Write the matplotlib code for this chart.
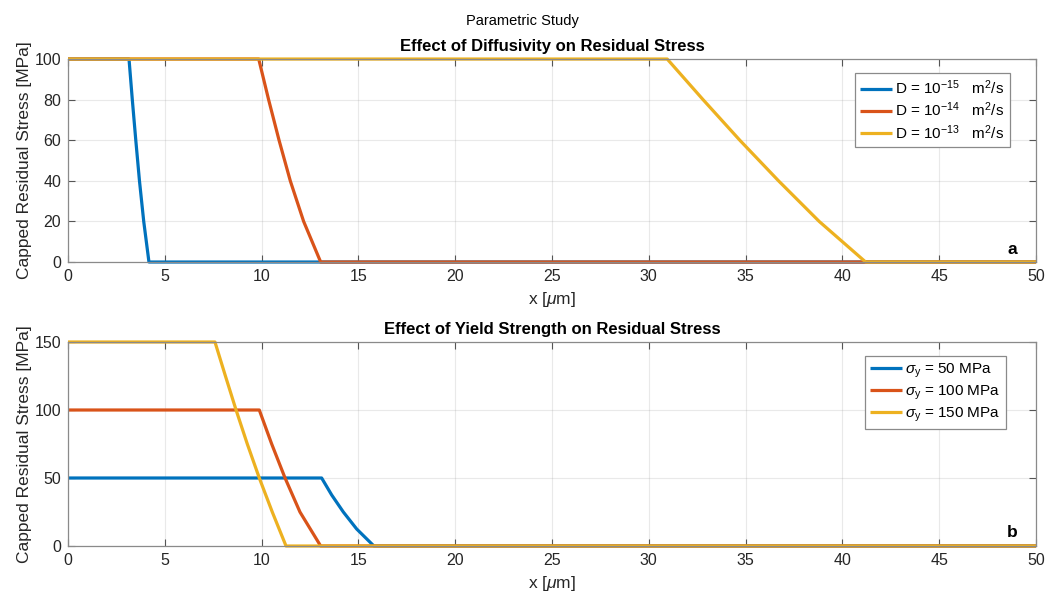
import numpy as np
import matplotlib
matplotlib.use('Agg')
import matplotlib.pyplot as plt

plt.rcParams['font.family'] = ['Liberation Sans', 'DejaVu Sans']
plt.rcParams['mathtext.fontset'] = 'custom'
plt.rcParams['mathtext.rm'] = 'Liberation Sans'
plt.rcParams['mathtext.it'] = 'Liberation Sans:italic'

# colours (MATLAB default order)
colors = ['#0072BD', '#D95319', '#EDB120']

# panel a: effect of diffusivity (yield strength 100 MPa)
xa_d15 = [0, 3.15, 3.32, 3.50, 3.69, 3.91, 4.18, 50]
ya_d15 = [100, 100, 80, 60, 40, 20, 0, 0]
xa_d14 = [0, 9.85, 10.36, 10.90, 11.48, 12.17, 13.05, 50]
ya_d14 = [100, 100, 80, 60, 40, 20, 0, 0]
xa_d13 = [0, 30.95, 32.80, 34.70, 36.70, 38.80, 41.20, 50]
ya_d13 = [100, 100, 80, 60, 40, 20, 0, 0]
labels_a = [r'D = 10$^{-15}$   m$^2$/s', r'D = 10$^{-14}$   m$^2$/s', r'D = 10$^{-13}$   m$^2$/s']

# panel b: effect of yield strength
xb_50 = [0, 13.10, 13.62, 14.22, 14.91, 15.80, 50]
yb_50 = [50, 50, 37.5, 25, 12.5, 0, 0]
xb_100 = [0, 9.88, 10.52, 11.21, 11.98, 13.05, 50]
yb_100 = [100, 100, 75, 50, 25, 0, 0]
xb_150 = [0, 7.59, 8.13, 8.68, 9.26, 9.88, 10.55, 11.26, 50]
yb_150 = [150, 150, 125, 100, 75, 50, 25, 0, 0]
labels_b = [r'$\sigma_{\rm y}$ = 50 MPa', r'$\sigma_{\rm y}$ = 100 MPa', r'$\sigma_{\rm y}$ = 150 MPa']

fig = plt.figure(figsize=(10.45, 5.92), dpi=100)
ax1 = fig.add_axes([0.0651, 0.5574, 0.9263, 0.3429])
ax2 = fig.add_axes([0.0651, 0.0777, 0.9263, 0.3446])

def style(ax, yticks, ylim):
    ax.set_xlim(0, 50)
    ax.set_ylim(*ylim)
    ax.set_xticks(np.arange(0, 51, 5))
    ax.set_yticks(yticks)
    ax.grid(True, color='#888888', alpha=0.18, linewidth=0.8)
    ax.tick_params(direction='in', top=True, right=True, labelsize=11.5,
                   color='#555555', length=5, width=0.8, labelcolor='#262626', pad=5)
    for s in ax.spines.values():
        s.set_color('#8a8a8a')
        s.set_linewidth(0.9)
    ax.set_xlabel(r'x [$\mu$m]', fontsize=12.5, color='#262626', labelpad=4)
    ax.set_ylabel('Capped Residual Stress [MPa]', fontsize=12.5, color='#262626', labelpad=2)

def legend(ax, right, top):
    leg = ax.legend(loc='upper right', bbox_to_anchor=(right, top), fontsize=11, fancybox=False,
                    framealpha=1, edgecolor='#8a8a8a', handlelength=2.1, borderpad=0.35,
                    labelspacing=0.25, handletextpad=0.2, borderaxespad=0)
    leg.get_frame().set_linewidth(0.9)

for xs, ys, c, l in zip([xa_d15, xa_d14, xa_d13], [ya_d15, ya_d14, ya_d13], colors, labels_a):
    ax1.plot(xs, ys, color=c, lw=2.3, label=l, solid_joinstyle='round',
             solid_capstyle='butt', clip_on=False)
style(ax1, np.arange(0, 101, 20), (0, 100))
ax1.set_title('Effect of Diffusivity on Residual Stress', fontsize=12, fontweight='bold', pad=6)
legend(ax1, 0.973, 0.931)
ax1.text(0.975, 0.064, 'a', transform=ax1.transAxes, fontsize=12.5, fontweight='bold',
         ha='center', va='center')

for xs, ys, c, l in zip([xb_50, xb_100, xb_150], [yb_50, yb_100, yb_150], colors, labels_b):
    ax2.plot(xs, ys, color=c, lw=2.3, label=l, solid_joinstyle='round',
             solid_capstyle='butt', clip_on=False)
style(ax2, [0, 50, 100, 150], (0, 150))
ax2.set_title('Effect of Yield Strength on Residual Stress', fontsize=12, fontweight='bold', pad=6)
legend(ax2, 0.969, 0.931)
ax2.text(0.975, 0.064, 'b', transform=ax2.transAxes, fontsize=12.5, fontweight='bold',
         ha='center', va='center')

fig.text(0.5, 0.965, 'Parametric Study', ha='center', va='center', fontsize=10.5)

fig.savefig('out.png', dpi=100)
